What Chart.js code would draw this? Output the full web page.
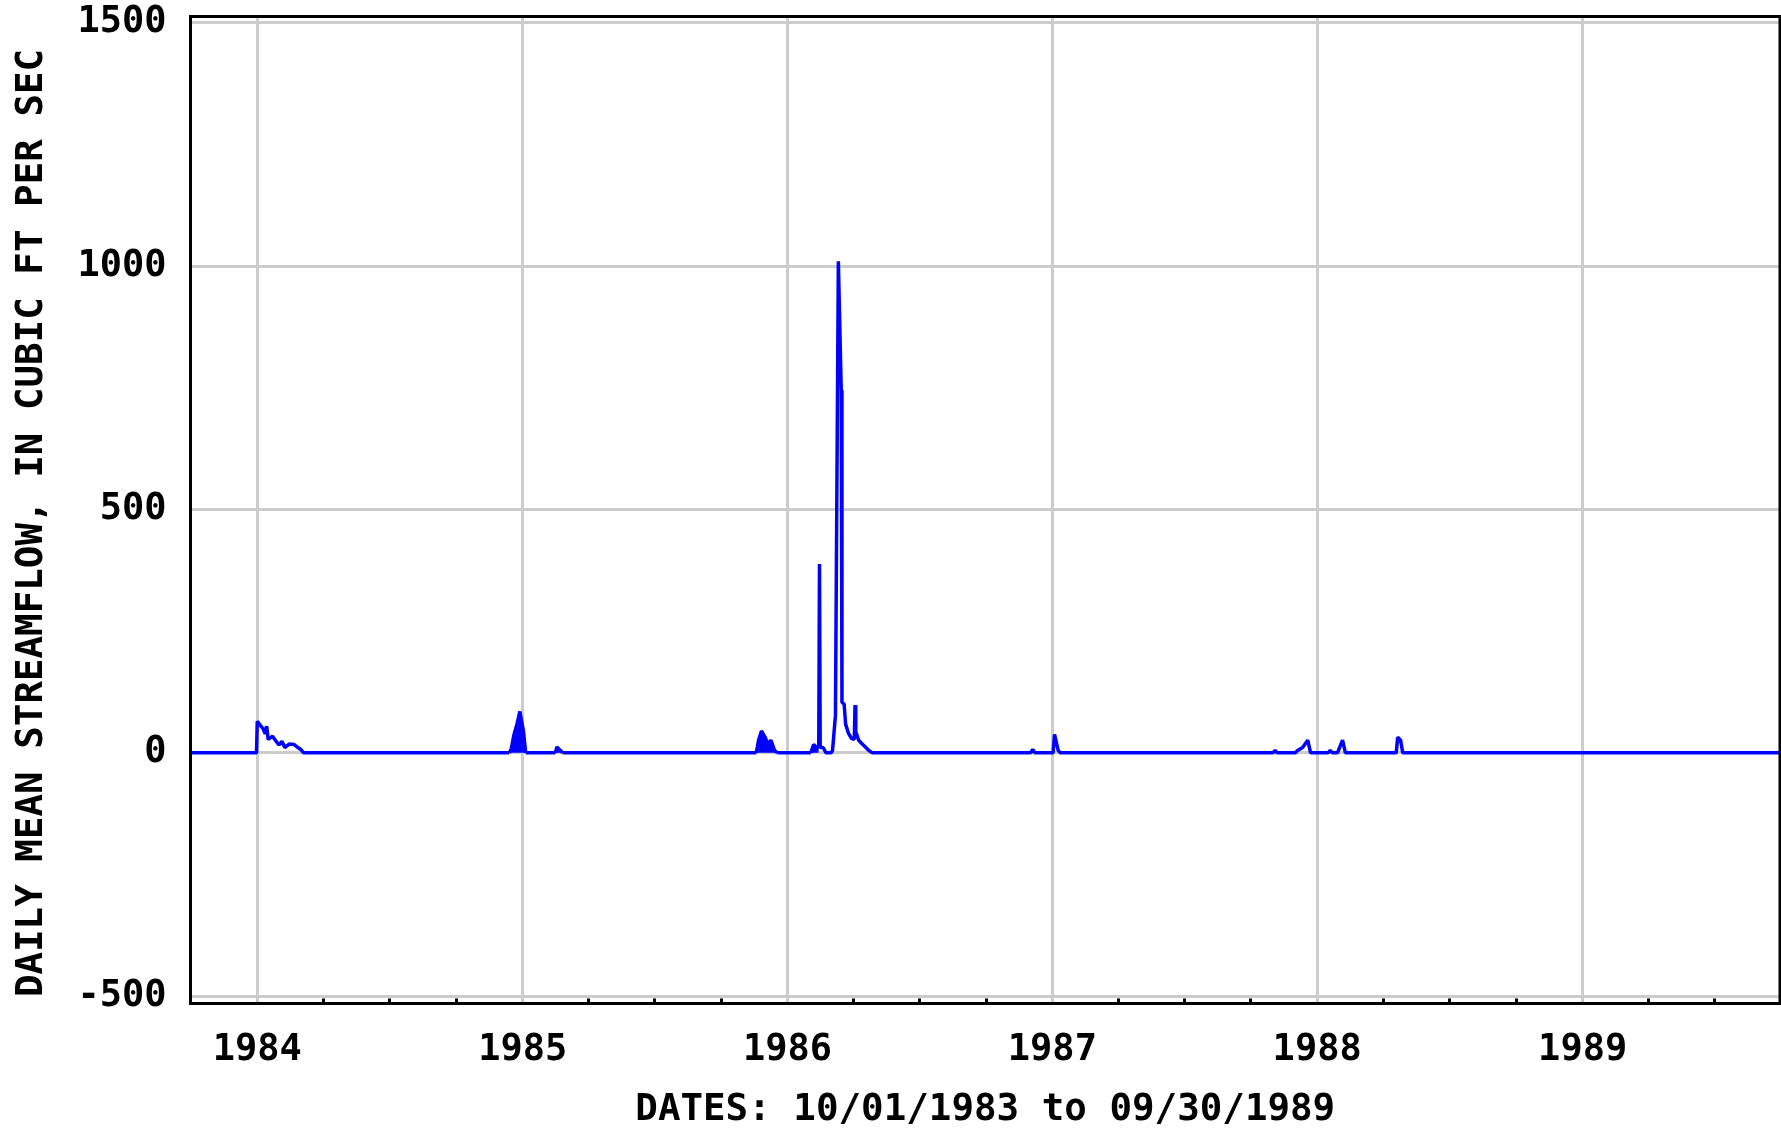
<!DOCTYPE html>
<html>
<head>
<meta charset="utf-8">
<title>Daily mean streamflow</title>
<script src="https://cdn.jsdelivr.net/npm/chart.js@4.4.1/dist/chart.umd.min.js"></script>
<style>
    html, body { margin: 0; padding: 0; background: #ffffff; }
</style>
</head>
<body>
<canvas id="flowChart" width="1781" height="1129"></canvas>
<script>
// Daily mean streamflow (cubic ft per sec). Long stretches of zero flow
// between events are left out, the line just runs along zero there.
const flowDates = [
    '1983-10-01', '1983-12-31',
    '1984-01-01', '1984-01-05', '1984-01-09', '1984-01-12', '1984-01-14', '1984-01-16',
    '1984-01-22', '1984-01-27', '1984-01-31', '1984-02-04', '1984-02-08', '1984-02-14',
    '1984-02-21', '1984-02-25', '1984-03-01', '1984-03-05',
    '1984-12-13', '1984-12-16', '1984-12-20', '1984-12-24', '1984-12-28', '1985-01-02', '1985-01-05',
    '1985-02-15', '1985-02-17', '1985-02-22', '1985-02-25',
    '1985-11-19', '1985-11-22', '1985-11-26', '1985-12-01', '1985-12-05', '1985-12-09', '1985-12-14', '1985-12-18',
    '1986-02-02', '1986-02-06', '1986-02-10', '1986-02-13', '1986-02-14', '1986-02-15', '1986-02-19', '1986-02-23',
    '1986-03-02', '1986-03-04', '1986-03-08', '1986-03-12', '1986-03-16', '1986-03-17', '1986-03-20',
    '1986-03-22', '1986-03-26', '1986-03-30', '1986-04-03', '1986-04-04', '1986-04-05', '1986-04-09',
    '1986-04-14', '1986-04-19', '1986-04-23', '1986-04-28',
    '1986-12-02', '1986-12-05', '1986-12-08',
    '1987-01-02', '1987-01-04', '1987-01-09', '1987-01-12',
    '1987-11-01', '1987-11-04', '1987-11-07',
    '1987-12-02', '1987-12-05', '1987-12-12', '1987-12-19', '1987-12-23',
    '1988-01-16', '1988-01-19', '1988-01-22',
    '1988-01-29', '1988-02-01', '1988-02-05', '1988-02-09',
    '1988-04-19', '1988-04-21', '1988-04-25', '1988-04-28',
    '1989-09-30'
];
const flowCfs = [
    0, 0,
    65, 57, 50, 39, 55, 28,
    34, 24, 16, 24, 11, 18,
    17, 12, 7, 0,
    0, 7, 38, 59, 85, 44, 0,
    0, 12, 5, 0,
    0, 26, 45, 32, 18, 26, 5, 0,
    0, 17, 11, 11, 388, 11, 11, 0,
    0, 5, 77, 1010, 745, 104, 100,
    59, 40, 30, 28, 98, 44, 26,
    18, 11, 5, 0,
    0, 7, 0,
    0, 38, 5, 0,
    0, 5, 0,
    0, 5, 11, 26, 0,
    0, 5, 0,
    0, 11, 26, 0,
    0, 32, 26, 0,
    0
];

// short storm runs that show up as solid columns
const solidRuns = [
    ['1984-12-13', '1985-01-05'],
    ['1985-02-15', '1985-02-25'],
    ['1985-11-19', '1985-12-18'],
    ['1986-02-02', '1986-02-13']
];

const yTickValues = [-500, 0, 500, 1000, 1500];
const yearLabels = ['1984', '1985', '1986', '1987', '1988', '1989'];

const periodStart = '1983-10-01';
const periodEnd = '1989-09-30';
const yTitle = 'DAILY MEAN STREAMFLOW, IN CUBIC FT PER SEC';
const xTitle = 'DATES: 10/01/1983 to 09/30/1989';

const lineBlue = '#0000ff';
const gridGray = '#cccccc';
const fontFamily = '"DejaVu Sans Mono", monospace';
const tickFont = { family: fontFamily, size: 37, weight: 'bold' };
const titleFont = { family: fontFamily, size: 37.5, weight: 'bold', lineHeight: 1 };

// days since the start of the period
function dayOf(iso) {
    const [y, m, d] = iso.split('-').map(Number);
    const [y0, m0, d0] = periodStart.split('-').map(Number);
    return Math.round((Date.UTC(y, m - 1, d) - Date.UTC(y0, m0 - 1, d0)) / 86400000);
}

const yearDays = yearLabels.map(y => dayOf(`${y}-01-01`));

// quarter marks (Apr, Jul, Oct) between the year lines
const quarterDates = [];
yearLabels.forEach(y => {
    ['04-01', '07-01', '10-01'].forEach(md => {
        const iso = `${y}-${md}`;
        if (dayOf(iso) < dayOf(periodEnd)) quarterDates.push(iso);
    });
});

const flowPoints = flowDates.map((d, i) => ({ x: dayOf(d), y: flowCfs[i] }));
const solidDays = solidRuns.map(([a, b]) => [dayOf(a), dayOf(b)]);

function inSolidRun(x0, x1) {
    return solidDays.some(([a, b]) => x0 >= a && x1 <= b);
}

// black frame, inward quarter ticks and the rotated y title
const framePlugin = {
    id: 'frame',
    afterDatasetsDraw(chart) {
        const { ctx, chartArea: a, scales: { x } } = chart;
        ctx.save();
        ctx.strokeStyle = '#000';
        ctx.lineWidth = 3;

        ctx.beginPath();
        quarterDates.forEach(d => {
            const px = Math.round(x.getPixelForValue(dayOf(d))) + 0.5;
            ctx.moveTo(px, a.bottom);
            ctx.lineTo(px, a.bottom - 5);
        });
        ctx.stroke();

        ctx.strokeRect(a.left, a.top, a.right - a.left, a.bottom - a.top);

        ctx.translate(32, (a.top + a.bottom) / 2 + 13);
        ctx.rotate(-Math.PI / 2);
        ctx.font = `bold ${titleFont.size}px ${fontFamily}`;
        ctx.fillStyle = '#000';
        ctx.textAlign = 'center';
        ctx.textBaseline = 'middle';
        ctx.fillText(yTitle, 0, 0);
        ctx.restore();
    }
};

const ctx = document.getElementById('flowChart').getContext('2d');

const flowChart = new Chart(ctx, {
    type: 'line',
    data: {
        datasets: [{
            label: 'Daily mean streamflow',
            data: flowPoints,
            borderColor: lineBlue,
            borderWidth: 3.5,
            borderJoinStyle: 'bevel',
            backgroundColor: 'rgba(0,0,0,0)',
            fill: 'origin',
            segment: {
                backgroundColor: c => inSolidRun(c.p0.parsed.x, c.p1.parsed.x) ? lineBlue : undefined
            },
            pointRadius: 0,
            tension: 0
        }]
    },
    options: {
        responsive: false,
        animation: false,
        devicePixelRatio: 1,
        layout: { padding: { left: 0, top: 16.5, right: 1, bottom: 0 } },
        plugins: {
            legend: { display: false },
            tooltip: { enabled: false }
        },
        scales: {
            x: {
                type: 'linear',
                min: dayOf(periodStart),
                max: dayOf(periodEnd),
                afterBuildTicks: scale => {
                    const days = yearDays.concat(quarterDates.map(dayOf)).sort((p, q) => p - q);
                    scale.ticks = days.map(v => ({ value: v }));
                },
                afterFit: scale => {
                    scale.height = 125.5;
                    scale.paddingLeft = 0;
                    scale.paddingRight = 0;
                },
                ticks: {
                    autoSkip: false,
                    maxRotation: 0,
                    padding: 25,
                    color: '#000',
                    font: tickFont,
                    callback: value => {
                        const i = yearDays.indexOf(value);
                        return i >= 0 ? yearLabels[i] : '';
                    }
                },
                grid: {
                    color: c => (c.tick && yearDays.includes(c.tick.value)) ? gridGray : 'rgba(0,0,0,0)',
                    lineWidth: 3,
                    drawTicks: false
                },
                border: { display: false },
                title: {
                    display: true,
                    text: xTitle,
                    color: '#000',
                    font: titleFont,
                    padding: { top: 0, bottom: 0 }
                }
            },
            y: {
                type: 'linear',
                min: -515,
                max: 1513,
                afterBuildTicks: scale => {
                    scale.ticks = yTickValues.map(v => ({ value: v }));
                },
                afterFit: scale => {
                    scale.width = 190.5;
                    scale.paddingTop = 0;
                    scale.paddingBottom = 0;
                },
                ticks: {
                    padding: 24,
                    color: '#000',
                    font: tickFont,
                    callback: value => String(value)
                },
                grid: {
                    color: gridGray,
                    lineWidth: 3,
                    drawTicks: false
                },
                border: { display: false }
            }
        }
    },
    plugins: [framePlugin]
});
</script>
</body>
</html>
